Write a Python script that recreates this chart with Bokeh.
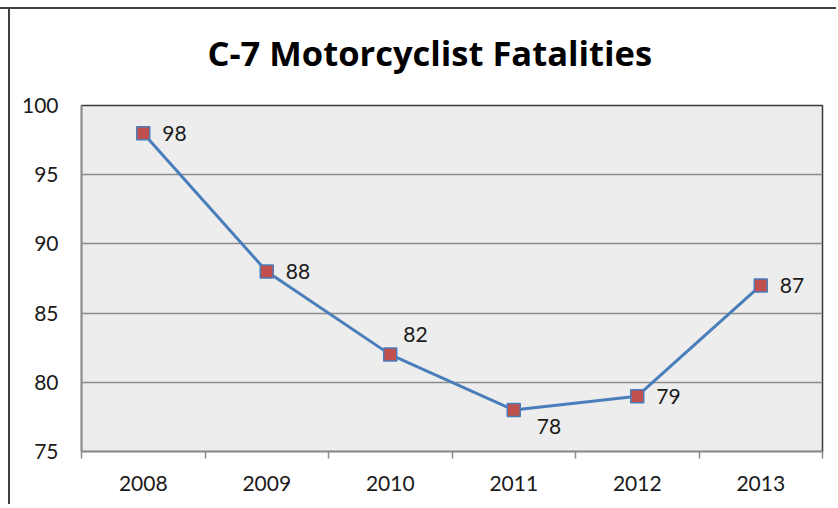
import numpy as np
from bokeh.plotting import figure
from bokeh.models import ColumnDataSource, FixedTicker
from bokeh.embed import file_html
from bokeh.resources import INLINE
from bokeh.core.properties import value

# ---- data ----
years = ["2008", "2009", "2010", "2011", "2012", "2013"]
fatalities = [98, 88, 82, 78, 79, 87]
y_ticks = [75, 80, 85, 90, 95, 100]
title_text = "C-7 Motorcyclist Fatalities"

# ---- label placement (style only, screen pixels) ----
label_dx = [19, 19, 13, 23, 19, 19]
label_dy = [0, 0, -20, 17, 0, 0]

FONT = "Lato"
TITLE_FONT = "Open Sans"
LINE_BLUE = "#4A7EBB"
MARK_RED = "#C0504D"
GRID = "#8C8C8C"
TXT = "#1A1A1A"
FRAME = "#404040"

xs = [i + 0.5 for i in range(len(years))]

src = ColumnDataSource(dict(
    x=xs, y=fatalities, label=[str(v) for v in fatalities],
    dx=label_dx, dy=label_dy,
))

p = figure(
    width=836, height=504,
    x_range=(0, len(years)), y_range=(y_ticks[0], y_ticks[-1]),
    output_backend="svg", toolbar_location=None,
    min_border_left=81, min_border_right=14,
    min_border_top=105, min_border_bottom=53,
)
# outer chart-area border (top and left edges), painted behind a transparent border fill
p.border_fill_color = None
p.styles = {
    "background": (
        f"linear-gradient({FRAME}, {FRAME}) 0px 7px / 100% 2px no-repeat, "
        f"linear-gradient({FRAME}, {FRAME}) 8px 7px / 2px 100% no-repeat, white"
    )
}

p.background_fill_color = "#EDEDED"
p.outline_line_color = "#3A3A3A"
p.outline_line_width = 1.5

p.xgrid.visible = False
p.ygrid.grid_line_color = GRID
p.ygrid.grid_line_width = 1.5
p.ygrid.ticker = FixedTicker(ticks=y_ticks)

# y axis
p.yaxis.ticker = FixedTicker(ticks=y_ticks)
p.yaxis.major_tick_out = 0
p.yaxis.major_tick_in = 0
p.yaxis.minor_tick_out = 0
p.yaxis.minor_tick_in = 0
p.yaxis.axis_line_color = GRID
p.yaxis.axis_line_width = 1.5
p.yaxis.major_label_text_font = FONT
p.yaxis.major_label_text_font_size = "21px"
p.yaxis.major_label_text_color = TXT
p.yaxis.major_label_standoff = 23

# x axis: labels at category centres, tick marks at category boundaries
p.xaxis.ticker = FixedTicker(ticks=xs, minor_ticks=list(range(len(years) + 1)))
p.xaxis.major_label_overrides = {x: y for x, y in zip(xs, years)}
p.xaxis.major_tick_out = 0
p.xaxis.major_tick_in = 0
p.xaxis.minor_tick_out = 7
p.xaxis.minor_tick_in = 0
p.xaxis.minor_tick_line_color = GRID
p.xaxis.minor_tick_line_width = 1.5
p.xaxis.axis_line_color = GRID
p.xaxis.axis_line_width = 1.5
p.xaxis.major_label_text_font = FONT
p.xaxis.major_label_text_font_size = "21px"
p.xaxis.major_label_text_color = TXT
p.xaxis.major_label_standoff = 17

# title
p.title.text = title_text
p.title.align = "left"
p.title.offset = 126
p.title.vertical_align = "top"
p.title.standoff = 55
p.title.text_font = TITLE_FONT
p.title.text_font_style = "bold"
p.title.text_font_size = "34.5px"
p.title.text_color = "#000000"

# series
p.line("x", "y", source=src, line_color=LINE_BLUE, line_width=3)
p.scatter("x", "y", source=src, marker="square", size=13,
          fill_color=MARK_RED, line_color=LINE_BLUE, line_width=1.5)
p.text("x", "y", text="label", source=src, x_offset="dx", y_offset="dy",
       text_font=value(FONT), text_font_size="21px", text_color=TXT,
       text_baseline="middle", text_align="left")

open("out.html", "w").write(file_html(p, INLINE))
